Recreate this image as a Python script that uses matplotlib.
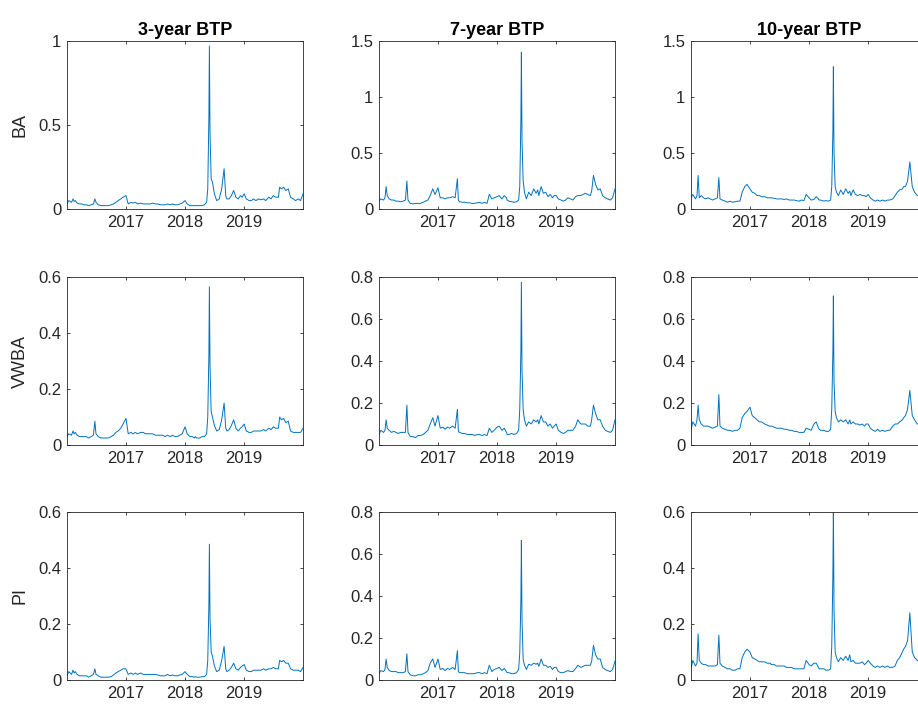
import pandas as pd
import matplotlib
matplotlib.use("Agg")
import matplotlib.pyplot as plt
import matplotlib.dates as mdates
from matplotlib.ticker import FuncFormatter

plt.rcParams['font.family'] = ['Liberation Sans', 'DejaVu Sans']

# Observation dates (shared by all nine series)
dates = [
    "2016-01-04", "2016-01-15", "2016-02-01", "2016-02-10", "2016-02-17", "2016-02-24", "2016-03-07",
    "2016-03-21", "2016-04-04", "2016-04-18", "2016-05-02", "2016-05-16", "2016-06-01", "2016-06-15",
    "2016-06-24", "2016-07-01", "2016-07-15", "2016-08-01", "2016-08-16", "2016-09-01", "2016-09-15",
    "2016-10-03", "2016-10-17", "2016-11-01", "2016-11-15", "2016-12-01", "2016-12-15",
    "2017-01-02", "2017-01-16", "2017-02-01", "2017-02-15", "2017-03-01", "2017-03-15", "2017-04-03",
    "2017-04-18", "2017-05-02", "2017-05-08", "2017-05-15", "2017-06-01", "2017-06-15", "2017-07-03",
    "2017-07-17", "2017-08-01", "2017-08-16", "2017-09-01", "2017-09-15", "2017-10-02", "2017-10-16",
    "2017-11-01", "2017-11-15", "2017-12-01", "2017-12-15",
    "2018-01-02", "2018-01-15", "2018-02-01", "2018-02-15", "2018-03-01", "2018-03-05", "2018-03-15",
    "2018-04-03", "2018-04-16", "2018-05-02", "2018-05-15", "2018-05-22", "2018-05-29", "2018-06-01",
    "2018-06-05", "2018-06-12", "2018-06-20", "2018-07-02", "2018-07-16", "2018-08-01", "2018-08-16",
    "2018-08-31", "2018-09-10", "2018-09-17", "2018-10-01", "2018-10-15", "2018-10-29", "2018-11-12",
    "2018-11-26", "2018-12-10", "2018-12-20",
    "2019-01-02", "2019-01-15", "2019-02-01", "2019-02-15", "2019-03-01", "2019-03-15", "2019-04-01",
    "2019-04-15", "2019-05-02", "2019-05-15", "2019-06-03", "2019-06-17", "2019-07-01", "2019-07-15",
    "2019-08-01", "2019-08-09", "2019-08-20", "2019-09-02", "2019-09-16", "2019-10-01", "2019-10-15",
    "2019-11-01", "2019-11-15", "2019-12-02", "2019-12-16", "2019-12-31",
]

# Bid-ask spread (BA)
ba_3y = [0.03, 0.05, 0.04, 0.06, 0.045, 0.05, 0.035, 0.03, 0.03, 0.025, 0.025, 0.02, 0.025, 0.03, 0.06, 0.04, 0.025, 0.02, 0.02, 0.02, 0.02, 0.025, 0.03, 0.04, 0.05, 0.06, 0.07,
         0.08, 0.03, 0.04, 0.035, 0.04, 0.03, 0.035, 0.03, 0.03, 0.03, 0.03, 0.03, 0.035, 0.03, 0.03, 0.025, 0.025, 0.025, 0.03, 0.025, 0.03, 0.025, 0.025, 0.03, 0.035,
         0.05, 0.03, 0.02, 0.02, 0.02, 0.02, 0.02, 0.02, 0.02, 0.025, 0.04, 0.12, 0.55, 0.97, 0.45, 0.18, 0.16, 0.09, 0.05, 0.06, 0.12, 0.24, 0.08, 0.06, 0.06, 0.08, 0.11, 0.07, 0.06, 0.08, 0.07,
         0.09, 0.06, 0.05, 0.05, 0.06, 0.05, 0.06, 0.055, 0.06, 0.05, 0.07, 0.06, 0.08, 0.07, 0.07, 0.13, 0.12, 0.13, 0.11, 0.12, 0.07, 0.06, 0.05, 0.06, 0.05, 0.09]
ba_7y = [0.07, 0.09, 0.08, 0.1, 0.2, 0.12, 0.09, 0.08, 0.08, 0.07, 0.07, 0.065, 0.07, 0.08, 0.25, 0.08, 0.05, 0.045, 0.05, 0.05, 0.05, 0.06, 0.07, 0.08, 0.12, 0.18, 0.13,
         0.19, 0.1, 0.1, 0.09, 0.1, 0.1, 0.11, 0.1, 0.27, 0.08, 0.065, 0.06, 0.06, 0.055, 0.055, 0.05, 0.05, 0.055, 0.06, 0.05, 0.06, 0.05, 0.13, 0.09, 0.1,
         0.11, 0.12, 0.09, 0.12, 0.1, 0.08, 0.07, 0.065, 0.06, 0.065, 0.08, 0.2, 0.8, 1.4, 0.6, 0.25, 0.15, 0.09, 0.15, 0.12, 0.18, 0.14, 0.17, 0.12, 0.2, 0.14, 0.15, 0.11, 0.13, 0.1, 0.12,
         0.12, 0.09, 0.08, 0.07, 0.08, 0.1, 0.09, 0.08, 0.11, 0.12, 0.12, 0.13, 0.14, 0.13, 0.12, 0.16, 0.3, 0.22, 0.17, 0.18, 0.12, 0.1, 0.09, 0.08, 0.1, 0.18]
ba_10y = [0.1, 0.13, 0.09, 0.12, 0.3, 0.1, 0.12, 0.1, 0.09, 0.1, 0.09, 0.08, 0.09, 0.1, 0.28, 0.09, 0.08, 0.07, 0.06, 0.07, 0.06, 0.065, 0.07, 0.07, 0.15, 0.2, 0.22,
          0.18, 0.15, 0.14, 0.12, 0.12, 0.11, 0.11, 0.1, 0.1, 0.1, 0.1, 0.095, 0.09, 0.09, 0.09, 0.085, 0.09, 0.08, 0.08, 0.08, 0.075, 0.07, 0.08, 0.075, 0.13,
          0.1, 0.08, 0.085, 0.11, 0.09, 0.08, 0.08, 0.07, 0.075, 0.07, 0.08, 0.2, 0.7, 1.27, 0.5, 0.2, 0.15, 0.12, 0.17, 0.13, 0.18, 0.14, 0.16, 0.12, 0.17, 0.13, 0.12, 0.13, 0.12, 0.12, 0.11,
          0.13, 0.1, 0.08, 0.07, 0.08, 0.07, 0.08, 0.07, 0.08, 0.08, 0.09, 0.12, 0.15, 0.17, 0.18, 0.2, 0.2, 0.25, 0.42, 0.2, 0.15, 0.12, 0.12, 0.1, 0.11, 0.15]

# Volume-weighted bid-ask spread (VWBA)
vwba_3y = [0.03, 0.04, 0.035, 0.05, 0.04, 0.045, 0.035, 0.03, 0.03, 0.03, 0.03, 0.025, 0.03, 0.035, 0.085, 0.04, 0.03, 0.025, 0.025, 0.025, 0.025, 0.03, 0.035, 0.045, 0.05, 0.06, 0.075,
           0.095, 0.04, 0.045, 0.04, 0.045, 0.04, 0.045, 0.045, 0.04, 0.04, 0.04, 0.04, 0.04, 0.035, 0.035, 0.035, 0.035, 0.03, 0.035, 0.03, 0.035, 0.03, 0.03, 0.035, 0.04,
           0.065, 0.04, 0.03, 0.03, 0.025, 0.03, 0.025, 0.025, 0.03, 0.03, 0.04, 0.1, 0.32, 0.565, 0.28, 0.12, 0.1, 0.07, 0.05, 0.055, 0.09, 0.15, 0.06, 0.05, 0.055, 0.07, 0.09, 0.06, 0.05, 0.06, 0.065,
           0.075, 0.05, 0.045, 0.045, 0.05, 0.05, 0.05, 0.05, 0.055, 0.05, 0.06, 0.055, 0.065, 0.06, 0.06, 0.1, 0.09, 0.095, 0.08, 0.085, 0.05, 0.045, 0.045, 0.045, 0.045, 0.06]
vwba_7y = [0.05, 0.07, 0.06, 0.07, 0.12, 0.08, 0.07, 0.06, 0.065, 0.06, 0.055, 0.06, 0.06, 0.06, 0.19, 0.06, 0.04, 0.04, 0.035, 0.045, 0.045, 0.05, 0.06, 0.07, 0.1, 0.13, 0.09,
           0.14, 0.08, 0.085, 0.075, 0.085, 0.08, 0.09, 0.08, 0.17, 0.065, 0.06, 0.055, 0.055, 0.05, 0.05, 0.05, 0.045, 0.05, 0.05, 0.045, 0.05, 0.045, 0.08, 0.06, 0.07,
           0.085, 0.09, 0.07, 0.08, 0.06, 0.05, 0.05, 0.055, 0.05, 0.055, 0.07, 0.17, 0.45, 0.775, 0.35, 0.17, 0.12, 0.09, 0.11, 0.1, 0.12, 0.11, 0.12, 0.1, 0.14, 0.11, 0.11, 0.09, 0.1, 0.08, 0.09,
           0.1, 0.07, 0.06, 0.055, 0.06, 0.07, 0.07, 0.07, 0.09, 0.12, 0.1, 0.1, 0.1, 0.09, 0.09, 0.12, 0.19, 0.15, 0.12, 0.12, 0.09, 0.07, 0.065, 0.06, 0.07, 0.12]
vwba_10y = [0.07, 0.11, 0.09, 0.12, 0.19, 0.12, 0.1, 0.09, 0.09, 0.09, 0.085, 0.08, 0.085, 0.09, 0.24, 0.09, 0.08, 0.075, 0.07, 0.07, 0.065, 0.07, 0.07, 0.08, 0.13, 0.15, 0.16,
            0.18, 0.14, 0.13, 0.12, 0.11, 0.11, 0.1, 0.095, 0.09, 0.09, 0.09, 0.085, 0.08, 0.08, 0.08, 0.075, 0.075, 0.07, 0.07, 0.065, 0.065, 0.06, 0.06, 0.06, 0.08,
            0.075, 0.07, 0.1, 0.11, 0.08, 0.075, 0.07, 0.07, 0.065, 0.065, 0.075, 0.17, 0.45, 0.71, 0.3, 0.16, 0.13, 0.11, 0.12, 0.11, 0.12, 0.1, 0.12, 0.1, 0.11, 0.1, 0.1, 0.095, 0.1, 0.09, 0.1,
            0.1, 0.08, 0.07, 0.065, 0.075, 0.065, 0.07, 0.065, 0.07, 0.07, 0.09, 0.1, 0.1, 0.11, 0.12, 0.13, 0.14, 0.17, 0.26, 0.14, 0.12, 0.1, 0.1, 0.09, 0.1, 0.12]

# Price impact (PI)
pi_3y = [0.015, 0.03, 0.02, 0.035, 0.025, 0.03, 0.02, 0.015, 0.015, 0.015, 0.015, 0.01, 0.015, 0.02, 0.04, 0.02, 0.015, 0.01, 0.01, 0.01, 0.01, 0.012, 0.018, 0.025, 0.03, 0.035, 0.04,
         0.04, 0.02, 0.025, 0.02, 0.025, 0.02, 0.025, 0.02, 0.02, 0.02, 0.02, 0.02, 0.02, 0.02, 0.018, 0.015, 0.015, 0.015, 0.02, 0.015, 0.018, 0.015, 0.015, 0.018, 0.02,
         0.03, 0.02, 0.012, 0.012, 0.01, 0.012, 0.01, 0.01, 0.012, 0.012, 0.02, 0.07, 0.27, 0.485, 0.22, 0.1, 0.085, 0.05, 0.03, 0.035, 0.07, 0.12, 0.04, 0.03, 0.035, 0.045, 0.06, 0.04, 0.035, 0.045, 0.05,
         0.055, 0.035, 0.03, 0.03, 0.035, 0.035, 0.035, 0.035, 0.04, 0.035, 0.04, 0.04, 0.045, 0.04, 0.04, 0.07, 0.065, 0.07, 0.06, 0.06, 0.04, 0.035, 0.035, 0.035, 0.03, 0.045]
pi_7y = [0.03, 0.045, 0.04, 0.05, 0.1, 0.06, 0.045, 0.04, 0.04, 0.04, 0.035, 0.035, 0.035, 0.04, 0.125, 0.04, 0.025, 0.02, 0.02, 0.025, 0.025, 0.03, 0.035, 0.045, 0.08, 0.1, 0.06,
         0.1, 0.05, 0.055, 0.045, 0.055, 0.05, 0.06, 0.05, 0.14, 0.04, 0.035, 0.035, 0.035, 0.03, 0.03, 0.03, 0.03, 0.035, 0.035, 0.03, 0.035, 0.03, 0.07, 0.04, 0.05,
         0.055, 0.06, 0.045, 0.055, 0.04, 0.035, 0.035, 0.03, 0.03, 0.035, 0.05, 0.13, 0.38, 0.665, 0.28, 0.1, 0.07, 0.05, 0.075, 0.07, 0.08, 0.075, 0.08, 0.065, 0.1, 0.07, 0.07, 0.06, 0.065, 0.05, 0.06,
         0.06, 0.04, 0.035, 0.035, 0.04, 0.045, 0.04, 0.04, 0.055, 0.07, 0.06, 0.065, 0.07, 0.07, 0.07, 0.09, 0.165, 0.12, 0.1, 0.1, 0.06, 0.05, 0.045, 0.04, 0.05, 0.09]
pi_10y = [0.04, 0.07, 0.05, 0.06, 0.165, 0.07, 0.06, 0.055, 0.055, 0.05, 0.05, 0.05, 0.05, 0.055, 0.16, 0.06, 0.05, 0.045, 0.04, 0.04, 0.035, 0.035, 0.04, 0.04, 0.08, 0.1, 0.11,
          0.1, 0.08, 0.075, 0.07, 0.065, 0.065, 0.065, 0.06, 0.06, 0.06, 0.055, 0.055, 0.05, 0.05, 0.05, 0.05, 0.045, 0.045, 0.045, 0.04, 0.04, 0.04, 0.04, 0.04, 0.07,
          0.055, 0.05, 0.06, 0.06, 0.045, 0.04, 0.04, 0.04, 0.035, 0.035, 0.04, 0.12, 0.38, 0.62, 0.25, 0.1, 0.08, 0.065, 0.08, 0.07, 0.085, 0.07, 0.09, 0.065, 0.07, 0.06, 0.06, 0.06, 0.065, 0.055, 0.06,
          0.07, 0.06, 0.05, 0.045, 0.05, 0.045, 0.05, 0.045, 0.05, 0.045, 0.045, 0.05, 0.07, 0.08, 0.1, 0.11, 0.12, 0.14, 0.24, 0.1, 0.08, 0.07, 0.065, 0.06, 0.07, 0.09]

maturities = ["3-year BTP", "7-year BTP", "10-year BTP"]
measures = ["BA", "VWBA", "PI"]
grid = [[ba_3y, ba_7y, ba_10y],
        [vwba_3y, vwba_7y, vwba_10y],
        [pi_3y, pi_7y, pi_10y]]
y_max = [[1, 1.5, 1.5], [0.6, 0.8, 0.8], [0.6, 0.8, 0.6]]
y_step = [[0.5, 0.5, 0.5], [0.2, 0.2, 0.2], [0.2, 0.2, 0.2]]
year_ticks = ["2017-01-01", "2018-01-01", "2019-01-01"]

t = pd.to_datetime(dates)
grey = "#262626"
W, H = 918, 706
lefts = [67, 379, 691]
tops = [41, 277, 512]
aw, ah = 236, 168

fig = plt.figure(figsize=(W / 100, H / 100), dpi=100)

for r in range(3):
    for c in range(3):
        ax = fig.add_axes([lefts[c] / W, 1 - (tops[r] + ah) / H, aw / W, ah / H])
        ax.plot(t, grid[r][c], color="#0072BD", lw=0.7)
        ax.set_xlim(t[0], t[-1])
        ax.set_ylim(0, y_max[r][c])
        n = int(round(y_max[r][c] / y_step[r][c]))
        ax.set_yticks([i * y_step[r][c] for i in range(n + 1)])
        ax.yaxis.set_major_formatter(FuncFormatter(lambda v, p: f"{v:g}"))
        ax.set_xticks(pd.to_datetime(year_ticks))
        ax.xaxis.set_major_formatter(mdates.DateFormatter("%Y"))
        ax.tick_params(direction="in", top=True, right=True, length=2.5, width=0.6,
                       colors=grey, labelsize=12, pad=4)
        for s in ax.spines.values():
            s.set_color(grey)
            s.set_linewidth(0.6)
        if r == 0:
            ax.set_title(maturities[c], fontsize=13, fontweight="bold", pad=4)
        if c == 0:
            ax.set_ylabel(measures[r], fontsize=13, color=grey, labelpad=7)

fig.savefig("out.png", dpi=100)
